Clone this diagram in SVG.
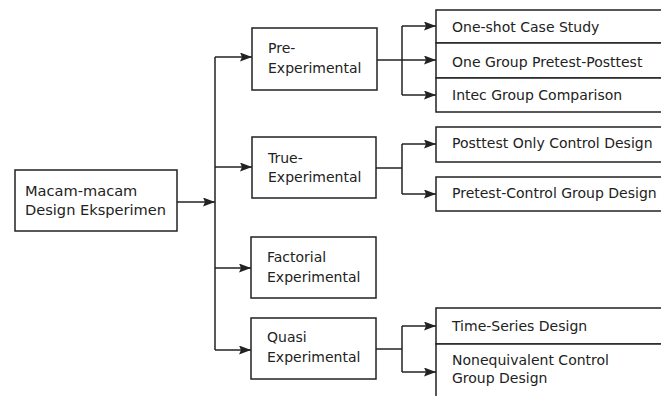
<svg xmlns="http://www.w3.org/2000/svg" width="661" height="396" viewBox="0 0 661 396">
<style>
.box{fill:#fff;stroke:#222;stroke-width:1.5}
.t{font-family:"DejaVu Sans",Verdana,sans-serif;font-size:14px;fill:#222}
.r{font-size:14.6px}
.c{fill:none;stroke:#222;stroke-width:1.5}
</style>
<defs>
<marker id="ah" viewBox="0 0 12 9" refX="12" refY="4.5" markerWidth="12" markerHeight="9" markerUnits="userSpaceOnUse" orient="auto">
<path d="M0,0 L12,4.5 L0,9 L2,4.5 Z" fill="#222"/>
</marker>
</defs>
<rect width="661" height="396" fill="#fff"/>
<g id="connectors">
<line class="c" x1="177" y1="202" x2="215" y2="202" marker-end="url(#ah)"/>
<line class="c" x1="215" y1="57" x2="215" y2="350"/>
<line class="c" x1="215" y1="57" x2="252" y2="57" marker-end="url(#ah)"/>
<line class="c" x1="215" y1="167" x2="252" y2="167" marker-end="url(#ah)"/>
<line class="c" x1="215" y1="268" x2="251" y2="268" marker-end="url(#ah)"/>
<line class="c" x1="215" y1="350" x2="251" y2="350" marker-end="url(#ah)"/>
<line class="c" x1="377" y1="60" x2="402" y2="60"/>
<line class="c" x1="402" y1="26" x2="402" y2="95"/>
<line class="c" x1="402" y1="26" x2="436" y2="26" marker-end="url(#ah)"/>
<line class="c" x1="402" y1="60" x2="436" y2="60" marker-end="url(#ah)"/>
<line class="c" x1="402" y1="95" x2="436" y2="95" marker-end="url(#ah)"/>
<line class="c" x1="376" y1="168" x2="402" y2="168"/>
<line class="c" x1="402" y1="144" x2="402" y2="194"/>
<line class="c" x1="402" y1="144" x2="436" y2="144" marker-end="url(#ah)"/>
<line class="c" x1="402" y1="194" x2="436" y2="194" marker-end="url(#ah)"/>
<line class="c" x1="376" y1="349" x2="402" y2="349"/>
<line class="c" x1="402" y1="326" x2="402" y2="372"/>
<line class="c" x1="402" y1="326" x2="436" y2="326" marker-end="url(#ah)"/>
<line class="c" x1="402" y1="372" x2="436" y2="372" marker-end="url(#ah)"/>
</g>
<g id="root">
<rect class="box" x="15" y="170" width="162" height="61"/>
<text class="t r" x="25" y="196">Macam-macam</text>
<text class="t r" x="25" y="215">Design Eksperimen</text>
</g>
<g id="pre">
<rect class="box" x="252" y="28" width="125" height="62"/>
<text class="t" x="268" y="53">Pre-</text>
<text class="t" x="268" y="73">Experimental</text>
</g>
<g id="true">
<rect class="box" x="252" y="137" width="124" height="61"/>
<text class="t" x="268" y="163">True-</text>
<text class="t" x="268" y="182">Experimental</text>
</g>
<g id="factorial">
<rect class="box" x="251" y="237" width="125" height="61"/>
<text class="t" x="267" y="262">Factorial</text>
<text class="t" x="267" y="282">Experimental</text>
</g>
<g id="quasi">
<rect class="box" x="251" y="318" width="125" height="61"/>
<text class="t" x="267" y="342">Quasi</text>
<text class="t" x="267" y="362">Experimental</text>
</g>
<g id="pre-designs">
<rect class="box" x="436" y="10" width="240" height="33"/>
<text class="t" x="452" y="32">One-shot Case Study</text>
<rect class="box" x="436" y="43" width="240" height="35"/>
<text class="t" x="452" y="67">One Group Pretest-Posttest</text>
<rect class="box" x="436" y="78" width="240" height="34"/>
<text class="t" x="452" y="100">Intec Group Comparison</text>
</g>
<g id="true-designs">
<rect class="box" x="436" y="127" width="240" height="35"/>
<text class="t" x="452" y="148">Posttest Only Control Design</text>
<rect class="box" x="436" y="177" width="240" height="34"/>
<text class="t" x="452" y="198">Pretest-Control Group Design</text>
</g>
<g id="quasi-designs">
<rect class="box" x="436" y="308" width="240" height="36"/>
<text class="t" x="452" y="331">Time-Series Design</text>
<rect class="box" x="436" y="344" width="240" height="60"/>
<text class="t" x="452" y="365">Nonequivalent Control</text>
<text class="t" x="452" y="383">Group Design</text>
</g>
</svg>
